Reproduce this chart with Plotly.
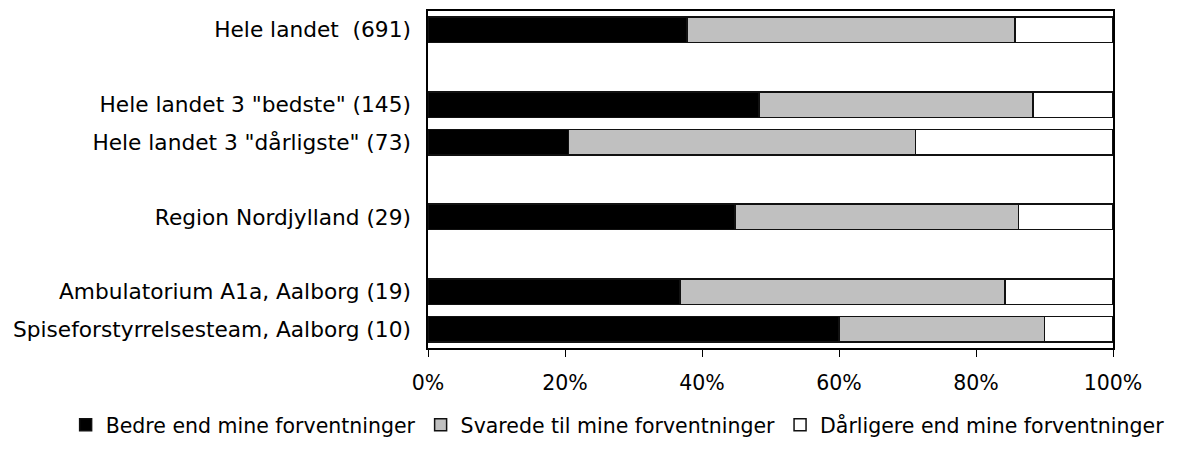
import plotly.graph_objects as go

categories = [
    'Hele landet  (691)',
    '\u200b',
    'Hele landet 3 "bedste" (145)',
    'Hele landet 3 "dårligste" (73)',
    '\u200b\u200b',
    'Region Nordjylland (29)',
    '\u200b\u200b\u200b',
    'Ambulatorium A1a, Aalborg (19)',
    'Spiseforstyrrelsesteam, Aalborg (10)',
]
bedre = [37.8, None, 48.3, 20.5, None, 44.8, None, 36.8, 60.0]
svarede = [47.9, None, 40.0, 50.7, None, 41.4, None, 47.4, 30.0]
darligere = [14.3, None, 11.7, 28.8, None, 13.8, None, 15.8, 10.0]

series_names = [
    "Bedre end mine forventninger",
    "Svarede til mine forventninger",
    "Dårligere end mine forventninger",
]
series_values = [bedre, svarede, darligere]
series_colors = ["#000000", "#C0C0C0", "#FFFFFF"]
x_ticks = [0, 20, 40, 60, 80, 100]
x_ticklabels = ["0%", "20%", "40%", "60%", "80%", "100%"]

FONT = "DejaVu Sans"

fig = go.Figure()
for name, vals, col in zip(series_names, series_values, series_colors):
    fig.add_trace(go.Bar(
        y=categories, x=vals, name=name, orientation="h",
        marker=dict(color=col, line=dict(color="#111111", width=1.5)),
        hoverinfo="skip",
    ))

fig.update_layout(
    width=1183, height=457,
    barmode="stack", bargap=0.32,
    plot_bgcolor="white", paper_bgcolor="white",
    margin=dict(l=428, r=70, t=11, b=109, autoexpand=False),
    font=dict(family=FONT, size=21, color="black"),
    showlegend=True,
    legend=dict(
        orientation="h", xref="paper", yref="paper",
        x=-0.529, xanchor="left", y=-0.228, yanchor="middle", itemwidth=30,
        font=dict(family=FONT, size=20.5, color="black"),
        traceorder="normal",
    ),
)
fig.update_xaxes(
    range=[0, 100], tickvals=x_ticks, ticktext=x_ticklabels,
    showgrid=False, zeroline=False, automargin=False,
    showline=True, linecolor="black", linewidth=1.5, mirror=True,
    ticks="outside", ticklen=7, tickcolor="black", tickwidth=1,
    tickfont=dict(family=FONT, size=20.5),
    ticklabelstandoff=9,
)
fig.update_yaxes(
    type="category", categoryorder="array", categoryarray=categories,
    range=[len(categories) - 0.5, -0.5], automargin=False,
    showgrid=False, zeroline=False,
    showline=True, linecolor="black", linewidth=1.5, mirror=True,
    ticks="outside", ticklen=11, tickcolor="rgba(0,0,0,0)",
    tickfont=dict(family=FONT, size=21.7),
)

fig.write_html(
    "out.html",
    config={"displayModeBar": False},
    post_script="document.body.style.margin='0px';",
)
